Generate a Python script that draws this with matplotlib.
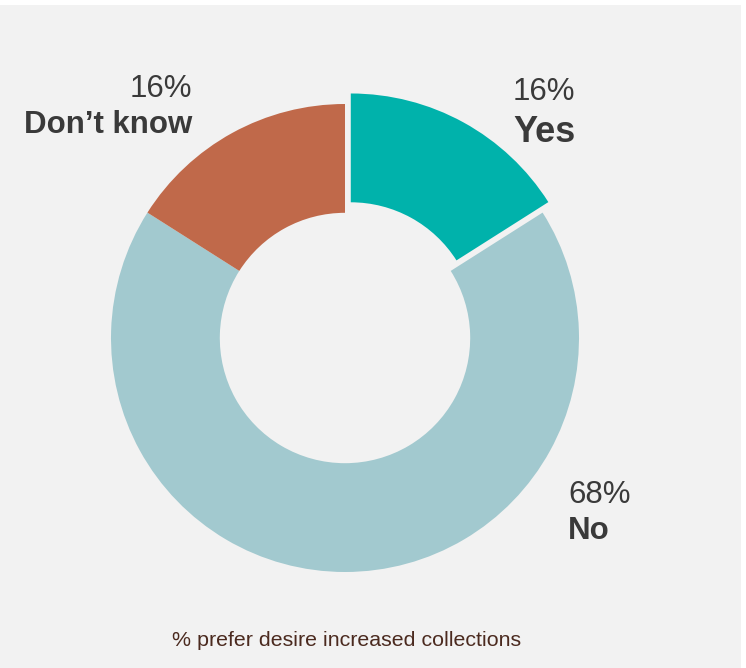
import matplotlib.pyplot as plt
from matplotlib.patches import Rectangle

# data
categories = ['Yes', 'No', 'Don\u2019t know']
shares = [16, 68, 16]
colors = ['#00b2ab', '#a2c9cf', '#c0694a']
caption = '% prefer desire increased collections'

W, H = 746, 668
plt.rcParams['font.family'] = ['Liberation Sans', 'DejaVu Sans']

fig = plt.figure(figsize=(W / 100, H / 100), dpi=100)
ax = fig.add_axes([0, 0, 1, 1])

# light gray panel with a thin white margin at top and right
ax.add_patch(Rectangle((0, 0), 741, H - 5, facecolor='#f2f2f2', edgecolor='none', zorder=0))

# donut, "Yes" slice pulled out a little (explode is in data units here)
ax.pie(shares, colors=colors, startangle=90, counterclock=False,
       explode=[12, 0, 0], center=(345, H - 338), radius=234,
       wedgeprops=dict(width=234 * 0.465, linewidth=0), frame=True)
ax.set_xlim(0, W)
ax.set_ylim(0, H)
ax.set_aspect('equal')
ax.axis('off')

txt = '#3a3a3a'
# Yes
ax.text(513, H - 100, f'{shares[0]}%', fontsize=22.5, color=txt, ha='left', va='baseline')
ax.text(513, H - 142, categories[0], fontsize=26, fontweight='bold', color=txt, ha='left', va='baseline')
# No
ax.text(568, H - 503, f'{shares[1]}%', fontsize=22.5, color=txt, ha='left', va='baseline')
ax.text(568, H - 539, categories[1], fontsize=22.5, fontweight='bold', color=txt, ha='left', va='baseline')
# Don't know
ax.text(192, H - 97, f'{shares[2]}%', fontsize=22.5, color=txt, ha='right', va='baseline')
ax.text(192, H - 133, categories[2], fontsize=22.5, fontweight='bold', color=txt, ha='right', va='baseline')

ax.text(347, H - 646, caption, fontsize=15.4, color='#4b2a1f', ha='center', va='baseline')

fig.savefig('out.png', dpi=100, facecolor='white')
